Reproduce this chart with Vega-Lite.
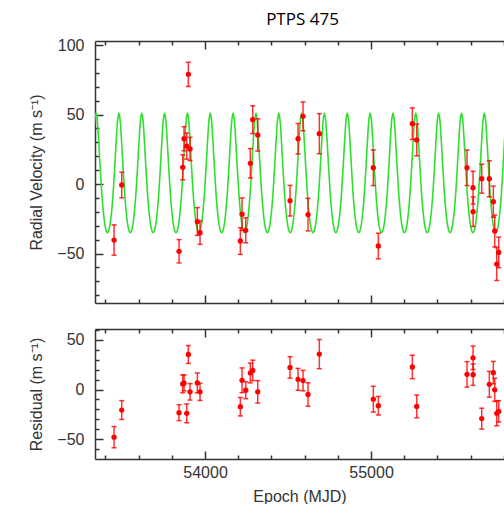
{
"$schema": "https://vega.github.io/schema/vega-lite/v6.json",
"padding": {"left": 28, "top": 11, "right": 0, "bottom": 0},
"config": {
 "view": {"stroke": null},
 "font": "Liberation Sans",
 "axis": {"labelFont": "Liberation Sans", "labelFontSize": 16, "labelColor": "#333", "titleFont": "Liberation Sans", "titleFontSize": 16, "titleFontWeight": "normal", "titleColor": "#333", "domainColor": "#333", "domainWidth": 1.5, "tickColor": "#333", "tickWidth": 1.5, "grid": false, "labelOverlap": false, "labelFlush": false}
},
"datasets": {
 "obs": [
  {"t":53451.8,"rv":-40.3,"erv":10.9,"res":-48,"eres":10.7},
  {"t":53498.1,"rv":-0.7,"erv":9.2,"res":-20.7,"eres":9.5},
  {"t":53843.3,"rv":-48.4,"erv":8.4,"res":-23.3,"eres":8},
  {"t":53865.6,"rv":12.0,"erv":9,"res":5.7,"eres":9},
  {"t":53873.4,"rv":32.6,"erv":8.7,"res":6.7,"eres":8},
  {"t":53889.7,"rv":27.3,"erv":9.4,"res":-24,"eres":9.5},
  {"t":53899.3,"rv":78.9,"erv":8.7,"res":35.3,"eres":9},
  {"t":53909.6,"rv":25.2,"erv":8.4,"res":-2.3,"eres":8.3},
  {"t":53953.6,"rv":-27,"erv":10,"res":6.7,"eres":10},
  {"t":53969.8,"rv":-35,"erv":8.4,"res":-2.3,"eres":8.7},
  {"t":54212.6,"rv":-41,"erv":9.6,"res":-17.3,"eres":9.3},
  {"t":54222.8,"rv":-21.7,"erv":11.7,"res":9.3,"eres":12.5},
  {"t":54245.1,"rv":-33.3,"erv":9,"res":-0.7,"eres":8.5},
  {"t":54272.8,"rv":14.9,"erv":10.6,"res":16.7,"eres":10},
  {"t":54287.3,"rv":46.3,"erv":10,"res":19.3,"eres":10.3},
  {"t":54317.4,"rv":35.3,"erv":11.6,"res":-2.3,"eres":11.3},
  {"t":54512.0,"rv":-12,"erv":11,"res":22.3,"eres":10.8},
  {"t":54560.2,"rv":32.6,"erv":11,"res":10.3,"eres":11},
  {"t":54590.3,"rv":48.7,"erv":10.4,"res":9,"eres":10.3},
  {"t":54620.4,"rv":-22,"erv":11.7,"res":-5,"eres":11.8},
  {"t":54688.5,"rv":36.2,"erv":14.4,"res":35.7,"eres":14.7},
  {"t":55013.8,"rv":11.7,"erv":12.8,"res":-9.7,"eres":13},
  {"t":55043.9,"rv":-44.6,"erv":9.2,"res":-16.3,"eres":9.3},
  {"t":55248.7,"rv":43.4,"erv":11.4,"res":22.7,"eres":11.8},
  {"t":55275.2,"rv":31.7,"erv":11.4,"res":-17,"eres":11.5},
  {"t":55578.2,"rv":11.7,"erv":12.8,"res":15.3,"eres":12.8},
  {"t":55614.4,"rv":-2.6,"erv":11.8,"res":32,"eres":11.8},
  {"t":55615.0,"rv":-19.9,"erv":10.6,"res":15,"eres":10.8},
  {"t":55666.8,"rv":3.8,"erv":10.4,"res":-29.3,"eres":10.5},
  {"t":55712.6,"rv":3.8,"erv":13,"res":5.3,"eres":13},
  {"t":55736.7,"rv":-12.7,"erv":11.2,"res":17,"eres":11.3},
  {"t":55745.1,"rv":-33.8,"erv":11.4,"res":-0.3,"eres":11.7},
  {"t":55757.1,"rv":-57.6,"erv":11.8,"res":-24,"eres":12.5},
  {"t":55769.2,"rv":-49.2,"erv":11,"res":-22,"eres":10.8}
 ],
 "model": [
  {"t":53274.5,"m":-35},{"t":53283.1,"m":-33.3},{"t":53291.7,"m":-28},{"t":53300.3,"m":-18.9},{"t":53308.9,"m":-6.1},{"t":53317.5,"m":10.5},{"t":53326.1,"m":28.8},{"t":53334.7,"m":44.6},
  {"t":53343.3,"m":51},{"t":53351.9,"m":44.6},{"t":53360.5,"m":28.8},{"t":53369.1,"m":10.5},{"t":53377.7,"m":-6.1},{"t":53386.3,"m":-18.9},{"t":53394.9,"m":-28},{"t":53403.5,"m":-33.3},{"t":53412.1,"m":-35},{"t":53420.7,"m":-33.3},{"t":53429.3,"m":-28},{"t":53437.9,"m":-18.9},{"t":53446.5,"m":-6.1},{"t":53455.1,"m":10.5},{"t":53463.7,"m":28.8},{"t":53472.3,"m":44.6},
  {"t":53480.9,"m":51},{"t":53489.5,"m":44.6},{"t":53498.1,"m":28.8},{"t":53506.7,"m":10.5},{"t":53515.3,"m":-6.1},{"t":53523.9,"m":-18.9},{"t":53532.5,"m":-28},{"t":53541.1,"m":-33.3},{"t":53549.7,"m":-35},{"t":53558.3,"m":-33.3},{"t":53566.9,"m":-28},{"t":53575.5,"m":-18.9},{"t":53584.1,"m":-6.1},{"t":53592.7,"m":10.5},{"t":53601.3,"m":28.8},{"t":53609.9,"m":44.6},
  {"t":53618.5,"m":51},{"t":53627.1,"m":44.6},{"t":53635.7,"m":28.8},{"t":53644.3,"m":10.5},{"t":53652.9,"m":-6.1},{"t":53661.5,"m":-18.9},{"t":53670.1,"m":-28},{"t":53678.7,"m":-33.3},{"t":53687.3,"m":-35},{"t":53695.9,"m":-33.3},{"t":53704.5,"m":-28},{"t":53713.1,"m":-18.9},{"t":53721.7,"m":-6.1},{"t":53730.3,"m":10.5},{"t":53738.9,"m":28.8},{"t":53747.5,"m":44.6},
  {"t":53756.1,"m":51},{"t":53764.7,"m":44.6},{"t":53773.3,"m":28.8},{"t":53781.9,"m":10.5},{"t":53790.5,"m":-6.1},{"t":53799.1,"m":-18.9},{"t":53807.7,"m":-28},{"t":53816.3,"m":-33.3},{"t":53824.9,"m":-35},{"t":53833.5,"m":-33.3},{"t":53842.1,"m":-28},{"t":53850.7,"m":-18.9},{"t":53859.3,"m":-6.1},{"t":53867.9,"m":10.5},{"t":53876.5,"m":28.8},{"t":53885.1,"m":44.6},
  {"t":53893.7,"m":51},{"t":53902.3,"m":44.6},{"t":53910.9,"m":28.8},{"t":53919.5,"m":10.5},{"t":53928.1,"m":-6.1},{"t":53936.7,"m":-18.9},{"t":53945.3,"m":-28},{"t":53953.9,"m":-33.3},{"t":53962.5,"m":-35},{"t":53971.1,"m":-33.3},{"t":53979.7,"m":-28},{"t":53988.3,"m":-18.9},{"t":53996.9,"m":-6.1},{"t":54005.5,"m":10.5},{"t":54014.1,"m":28.8},{"t":54022.7,"m":44.6},
  {"t":54031.3,"m":51},{"t":54039.9,"m":44.6},{"t":54048.5,"m":28.8},{"t":54057.1,"m":10.5},{"t":54065.7,"m":-6.1},{"t":54074.3,"m":-18.9},{"t":54082.9,"m":-28},{"t":54091.5,"m":-33.3},{"t":54100.1,"m":-35},{"t":54108.7,"m":-33.3},{"t":54117.3,"m":-28},{"t":54125.9,"m":-18.9},{"t":54134.5,"m":-6.1},{"t":54143.1,"m":10.5},{"t":54151.7,"m":28.8},{"t":54160.3,"m":44.6},
  {"t":54168.9,"m":51},{"t":54177.5,"m":44.6},{"t":54186.1,"m":28.8},{"t":54194.7,"m":10.5},{"t":54203.3,"m":-6.1},{"t":54211.9,"m":-18.9},{"t":54220.5,"m":-28},{"t":54229.1,"m":-33.3},{"t":54237.7,"m":-35},{"t":54246.3,"m":-33.3},{"t":54254.9,"m":-28},{"t":54263.5,"m":-18.9},{"t":54272.1,"m":-6.1},{"t":54280.7,"m":10.5},{"t":54289.3,"m":28.8},{"t":54297.9,"m":44.6},
  {"t":54306.5,"m":51},{"t":54315.1,"m":44.6},{"t":54323.7,"m":28.8},{"t":54332.3,"m":10.5},{"t":54340.9,"m":-6.1},{"t":54349.5,"m":-18.9},{"t":54358.1,"m":-28},{"t":54366.7,"m":-33.3},{"t":54375.3,"m":-35},{"t":54383.9,"m":-33.3},{"t":54392.5,"m":-28},{"t":54401.1,"m":-18.9},{"t":54409.7,"m":-6.1},{"t":54418.3,"m":10.5},{"t":54426.9,"m":28.8},{"t":54435.5,"m":44.6},
  {"t":54444.1,"m":51},{"t":54452.7,"m":44.6},{"t":54461.3,"m":28.8},{"t":54469.9,"m":10.5},{"t":54478.5,"m":-6.1},{"t":54487.1,"m":-18.9},{"t":54495.7,"m":-28},{"t":54504.3,"m":-33.3},{"t":54512.9,"m":-35},{"t":54521.5,"m":-33.3},{"t":54530.1,"m":-28},{"t":54538.7,"m":-18.9},{"t":54547.3,"m":-6.1},{"t":54555.9,"m":10.5},{"t":54564.5,"m":28.8},{"t":54573.1,"m":44.6},
  {"t":54581.7,"m":51},{"t":54590.3,"m":44.6},{"t":54598.9,"m":28.8},{"t":54607.5,"m":10.5},{"t":54616.1,"m":-6.1},{"t":54624.7,"m":-18.9},{"t":54633.3,"m":-28},{"t":54641.9,"m":-33.3},{"t":54650.5,"m":-35},{"t":54659.1,"m":-33.3},{"t":54667.7,"m":-28},{"t":54676.3,"m":-18.9},{"t":54684.9,"m":-6.1},{"t":54693.5,"m":10.5},{"t":54702.1,"m":28.8},{"t":54710.7,"m":44.6},
  {"t":54719.3,"m":51},{"t":54727.9,"m":44.6},{"t":54736.5,"m":28.8},{"t":54745.1,"m":10.5},{"t":54753.7,"m":-6.1},{"t":54762.3,"m":-18.9},{"t":54770.9,"m":-28},{"t":54779.5,"m":-33.3},{"t":54788.1,"m":-35},{"t":54796.7,"m":-33.3},{"t":54805.3,"m":-28},{"t":54813.9,"m":-18.9},{"t":54822.5,"m":-6.1},{"t":54831.1,"m":10.5},{"t":54839.7,"m":28.8},{"t":54848.3,"m":44.6},
  {"t":54856.9,"m":51},{"t":54865.5,"m":44.6},{"t":54874.1,"m":28.8},{"t":54882.7,"m":10.5},{"t":54891.3,"m":-6.1},{"t":54899.9,"m":-18.9},{"t":54908.5,"m":-28},{"t":54917.1,"m":-33.3},{"t":54925.7,"m":-35},{"t":54934.3,"m":-33.3},{"t":54942.9,"m":-28},{"t":54951.5,"m":-18.9},{"t":54960.1,"m":-6.1},{"t":54968.7,"m":10.5},{"t":54977.3,"m":28.8},{"t":54985.9,"m":44.6},
  {"t":54994.5,"m":51},{"t":55003.1,"m":44.6},{"t":55011.7,"m":28.8},{"t":55020.3,"m":10.5},{"t":55028.9,"m":-6.1},{"t":55037.5,"m":-18.9},{"t":55046.1,"m":-28},{"t":55054.7,"m":-33.3},{"t":55063.3,"m":-35},{"t":55071.9,"m":-33.3},{"t":55080.5,"m":-28},{"t":55089.1,"m":-18.9},{"t":55097.7,"m":-6.1},{"t":55106.3,"m":10.5},{"t":55114.9,"m":28.8},{"t":55123.5,"m":44.6},
  {"t":55132.1,"m":51},{"t":55140.7,"m":44.6},{"t":55149.3,"m":28.8},{"t":55157.9,"m":10.5},{"t":55166.5,"m":-6.1},{"t":55175.1,"m":-18.9},{"t":55183.7,"m":-28},{"t":55192.3,"m":-33.3},{"t":55200.9,"m":-35},{"t":55209.5,"m":-33.3},{"t":55218.1,"m":-28},{"t":55226.7,"m":-18.9},{"t":55235.3,"m":-6.1},{"t":55243.9,"m":10.5},{"t":55252.5,"m":28.8},{"t":55261.1,"m":44.6},
  {"t":55269.7,"m":51},{"t":55278.3,"m":44.6},{"t":55286.9,"m":28.8},{"t":55295.5,"m":10.5},{"t":55304.1,"m":-6.1},{"t":55312.7,"m":-18.9},{"t":55321.3,"m":-28},{"t":55329.9,"m":-33.3},{"t":55338.5,"m":-35},{"t":55347.1,"m":-33.3},{"t":55355.7,"m":-28},{"t":55364.3,"m":-18.9},{"t":55372.9,"m":-6.1},{"t":55381.5,"m":10.5},{"t":55390.1,"m":28.8},{"t":55398.7,"m":44.6},
  {"t":55407.3,"m":51},{"t":55415.9,"m":44.6},{"t":55424.5,"m":28.8},{"t":55433.1,"m":10.5},{"t":55441.7,"m":-6.1},{"t":55450.3,"m":-18.9},{"t":55458.9,"m":-28},{"t":55467.5,"m":-33.3},{"t":55476.1,"m":-35},{"t":55484.7,"m":-33.3},{"t":55493.3,"m":-28},{"t":55501.9,"m":-18.9},{"t":55510.5,"m":-6.1},{"t":55519.1,"m":10.5},{"t":55527.7,"m":28.8},{"t":55536.3,"m":44.6},
  {"t":55544.9,"m":51},{"t":55553.5,"m":44.6},{"t":55562.1,"m":28.8},{"t":55570.7,"m":10.5},{"t":55579.3,"m":-6.1},{"t":55587.9,"m":-18.9},{"t":55596.5,"m":-28},{"t":55605.1,"m":-33.3},{"t":55613.7,"m":-35},{"t":55622.3,"m":-33.3},{"t":55630.9,"m":-28},{"t":55639.5,"m":-18.9},{"t":55648.1,"m":-6.1},{"t":55656.7,"m":10.5},{"t":55665.3,"m":28.8},{"t":55673.9,"m":44.6},
  {"t":55682.5,"m":51},{"t":55691.1,"m":44.6},{"t":55699.7,"m":28.8},{"t":55708.3,"m":10.5},{"t":55716.9,"m":-6.1},{"t":55725.5,"m":-18.9},{"t":55734.1,"m":-28},{"t":55742.7,"m":-33.3},{"t":55751.3,"m":-35},{"t":55759.9,"m":-33.3},{"t":55768.5,"m":-28},{"t":55777.1,"m":-18.9},{"t":55785.7,"m":-6.1},{"t":55794.3,"m":10.5},{"t":55802.9,"m":28.8},{"t":55811.5,"m":44.6},
  {"t":55820.1,"m":51},{"t":55828.7,"m":44.6},{"t":55837.3,"m":28.8},{"t":55845.9,"m":10.5},{"t":55854.5,"m":-6.1}
 ]
},
"spacing": 17,
"vconcat": [
 {
  "width": 409, "height": 262,
  "title": {"text": "PTPS 475", "font": "Open Sans", "fontSize": 17, "fontWeight": "normal", "color": "#000", "anchor": "middle", "frame": "group", "offset": 8, "dx": 3},
  "layer": [
   {
    "data": {"name": "model"},
    "mark": {"type": "line", "clip": true, "interpolate": "monotone", "color": "#2ee02e", "strokeWidth": 1.6},
    "encoding": {
     "x": {"field": "t", "type": "quantitative", "scale": {"domain": [53337, 55801], "nice": false, "zero": false},
           "axis": {"orient": "bottom", "values": [53400,53600,53800,54000,54200,54400,54600,54800,55000,55200,55400,55600,55800], "labels": false, "title": null,
                    "tickSize": {"condition": {"test": "datum.value % 1000 === 0", "value": -8}, "value": -4}}},
     "y": {"field": "m", "type": "quantitative", "scale": {"domain": [-85.6, 102.9], "nice": false, "zero": false},
           "axis": {"orient": "left", "values": [-80,-70,-60,-50,-40,-30,-20,-10,0,10,20,30,40,50,60,70,80,90,100], "title": "Radial Velocity (m s⁻¹)",
                    "labelExpr": "datum.value % 50 === 0 ? datum.label : ''", "labelPadding": 19, "titlePadding": 12,
                    "tickSize": {"condition": {"test": "datum.value % 50 === 0", "value": -8}, "value": -4}}}
    }
   },
   {
    "data": {"name": "obs"},
    "mark": {"type": "errorbar", "ticks": {"size": 5}, "color": "#ff0000", "opacity": 0.8, "thickness": 1.5},
    "encoding": {
     "x": {"field": "t", "type": "quantitative", "scale": {"domain": [53337, 55801], "nice": false, "zero": false},
           "axis": {"orient": "top", "values": [53400,53600,53800,54000,54200,54400,54600,54800,55000,55200,55400,55600,55800], "labels": false, "title": null,
                    "tickSize": {"condition": {"test": "datum.value % 1000 === 0", "value": -8}, "value": -4}}},
     "y": {"field": "rv", "type": "quantitative", "axis": null},
     "yError": {"field": "erv"}
    }
   },
   {
    "data": {"name": "obs"},
    "mark": {"type": "circle", "size": 28, "color": "#ff0000", "opacity": 1},
    "encoding": {
     "x": {"field": "t", "type": "quantitative", "axis": null},
     "y": {"field": "rv", "type": "quantitative", "axis": null}
    }
   }
  ],
  "resolve": {"axis": {"x": "independent", "y": "independent"}}
 },
 {
  "width": 409, "height": 130,
  "layer": [
   {
    "mark": {"type": "rule", "color": "#444", "strokeWidth": 1.5},
    "encoding": {"y": {"datum": 0, "type": "quantitative", "axis": null}}
   },
   {
    "data": {"name": "obs"},
    "mark": {"type": "errorbar", "ticks": {"size": 5}, "color": "#ff0000", "opacity": 0.8, "thickness": 1.5},
    "encoding": {
     "x": {"field": "t", "type": "quantitative", "scale": {"domain": [53337, 55801], "nice": false, "zero": false},
           "axis": {"orient": "top", "values": [53400,53600,53800,54000,54200,54400,54600,54800,55000,55200,55400,55600,55800], "labels": false, "title": null,
                    "tickSize": {"condition": {"test": "datum.value % 1000 === 0", "value": -8}, "value": -4}}},
     "y": {"field": "res", "type": "quantitative", "axis": null},
     "yError": {"field": "eres"}
    }
   },
   {
    "data": {"name": "obs"},
    "mark": {"type": "circle", "size": 28, "color": "#ff0000", "opacity": 1},
    "encoding": {
     "x": {"field": "t", "type": "quantitative", "scale": {"domain": [53337, 55801], "nice": false, "zero": false},
           "axis": {"orient": "bottom", "values": [53400,53600,53800,54000,54200,54400,54600,54800,55000,55200,55400,55600,55800], "format": "d", "title": "Epoch (MJD)",
                    "labelExpr": "datum.value % 1000 === 0 ? datum.label : ''", "labelPadding": 13, "titlePadding": 4,
                    "tickSize": {"condition": {"test": "datum.value % 1000 === 0", "value": -8}, "value": -4}}},
     "y": {"field": "res", "type": "quantitative", "scale": {"domain": [-70, 61], "nice": false, "zero": false},
           "axis": {"orient": "left", "values": [-60,-50,-40,-30,-20,-10,0,10,20,30,40,50,60], "title": "Residual (m s⁻¹)",
                    "labelExpr": "datum.value % 50 === 0 ? datum.label : ''", "labelPadding": 19, "titlePadding": 12,
                    "tickSize": {"condition": {"test": "datum.value % 50 === 0", "value": -8}, "value": -4}}}
    }
   }
  ],
  "resolve": {"axis": {"x": "independent", "y": "independent"}}
 }
]
}
